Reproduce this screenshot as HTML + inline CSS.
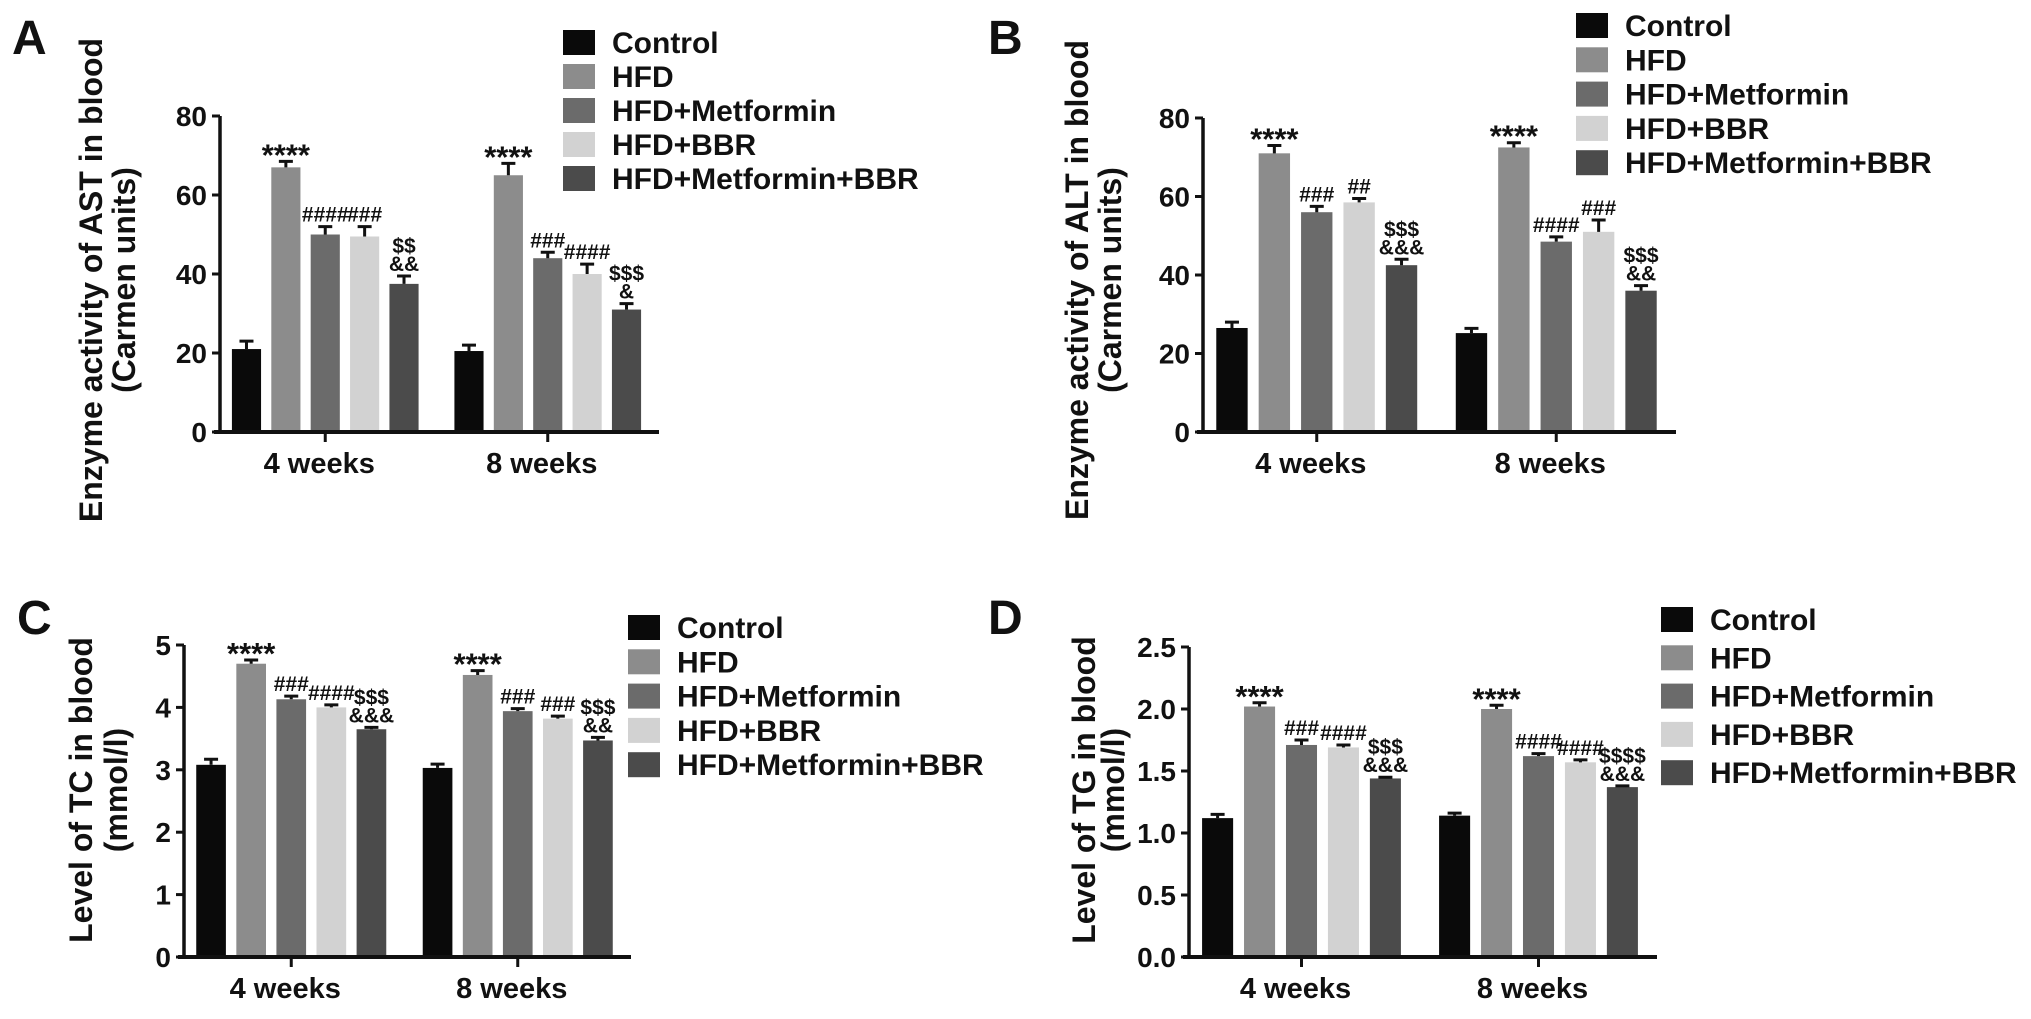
<!DOCTYPE html>
<html><head><meta charset="utf-8"><style>
html,body{margin:0;padding:0;background:#fff;}
svg{display:block;}
text{font-family:"Liberation Sans",sans-serif;font-weight:bold;fill:#111;}
</style></head><body>
<svg id="fig" width="2031" height="1019" viewBox="0 0 2031 1019" xmlns="http://www.w3.org/2000/svg"></svg>
<script>
// ---- shared data ----
const categories = ['4 weeks', '8 weeks'];
const seriesNames = ['Control', 'HFD', 'HFD+Metformin', 'HFD+BBR', 'HFD+Metformin+BBR'];
const seriesColors = ['#0a0a0a', '#8c8c8c', '#6b6b6b', '#d2d2d2', '#4b4b4b'];

// ---- panel A: AST ----
const astMeans4 = [21, 67, 50, 49.5, 37.5];
const astMeans8 = [20.5, 65, 44, 40, 31];
const astErr4 = [2, 1.5, 2, 2.5, 2];
const astErr8 = [1.5, 3, 1.5, 2.5, 1.5];
const astTicks = [0, 20, 40, 60, 80];
const astNotes4 = [[], ['****'], ['####'], ['###'], ['$$', '&&']];
const astNotes8 = [[], ['****'], ['###'], ['####'], ['$$$', '&']];

// ---- panel B: ALT ----
const altMeans4 = [26.5, 71, 56, 58.5, 42.5];
const altMeans8 = [25.2, 72.5, 48.5, 51, 36];
const altErr4 = [1.5, 2, 1.5, 1, 1.5];
const altErr8 = [1.2, 1.2, 1.2, 3, 1.3];
const altTicks = [0, 20, 40, 60, 80];
const altNotes4 = [[], ['****'], ['###'], ['##'], ['$$$', '&&&']];
const altNotes8 = [[], ['****'], ['####'], ['###'], ['$$$', '&&']];

// ---- panel C: TC ----
const tcMeans4 = [3.08, 4.7, 4.13, 4.0, 3.65];
const tcMeans8 = [3.03, 4.52, 3.94, 3.82, 3.47];
const tcErr4 = [0.09, 0.06, 0.05, 0.04, 0.03];
const tcErr8 = [0.06, 0.07, 0.04, 0.04, 0.05];
const tcTicks = [0, 1, 2, 3, 4, 5];
const tcNotes4 = [[], ['****'], ['###'], ['####'], ['$$$', '&&&']];
const tcNotes8 = [[], ['****'], ['###'], ['###'], ['$$$', '&&']];

// ---- panel D: TG ----
const tgMeans4 = [1.12, 2.02, 1.71, 1.69, 1.44];
const tgMeans8 = [1.14, 2.0, 1.62, 1.57, 1.37];
const tgErr4 = [0.03, 0.03, 0.04, 0.02, 0.01];
const tgErr8 = [0.02, 0.03, 0.02, 0.02, 0.01];
const tgTicks = [0, 0.5, 1.0, 1.5, 2.0, 2.5];
const tgNotes4 = [[], ['****'], ['###'], ['####'], ['$$$', '&&&']];
const tgNotes8 = [[], ['****'], ['####'], ['####'], ['$$$$', '&&&']];

const NS = 'http://www.w3.org/2000/svg';
const svg = document.getElementById('fig');
function mk(tag, attrs, parent) {
  const e = document.createElementNS(NS, tag);
  for (const k in attrs) e.setAttribute(k, attrs[k]);
  (parent || svg).appendChild(e);
  return e;
}

function drawPanel(p) {
  const g = mk('g', {});
  
  
  const yMin = p.ticks[0], yMax = p.ticks[p.ticks.length - 1];
  const yScale = v => p.yBottom - (v - yMin) / (yMax - yMin) * (p.yBottom - p.yTop);
  const groupW = (p.x1 - p.x0) / categories.length;
  const xGroup = gi => p.x0 + (gi + 0.5) * groupW;
  const pitch = groupW * 0.177;
  const bw = pitch * 0.74;

  const L = mk('text', {x: p.letterX, y: p.letterY, 'font-size': 48}, g);
  L.textContent = p.letter;
  
  

  const T1 = mk('text', {x: p.titleX1 + 11, y: p.titleY, 'font-size': p.titleSize, 'text-anchor': 'middle', transform: `rotate(-90 ${p.titleX1 + 11} ${p.titleY})`}, g);
  T1.textContent = p.title1;
  
  
  const T2 = mk('text', {x: p.titleX2 + 11, y: p.titleY, 'font-size': p.titleSize, 'text-anchor': 'middle', transform: `rotate(-90 ${p.titleX2 + 11} ${p.titleY})`}, g);
  T2.textContent = p.title2;
  
  

  const means = [p.means4, p.means8], errs = [p.err4, p.err8], notes = [p.notes4, p.notes8];
  for (let gi = 0; gi < categories.length; gi++) {
    for (let si = 0; si < seriesNames.length; si++) {
      const cx = xGroup(gi) + (si - 2) * pitch;
      const v = means[gi][si], e = errs[gi][si];
      const yt = yScale(v);
      const r = mk('rect', {x: cx - bw / 2, y: yt, width: bw, height: p.yBottom - yt, fill: seriesColors[si]}, g);
      
      
      const ye = yScale(v + e);
      const eb = mk('path', {d: `M${cx} ${yt}V${ye}M${cx - 7} ${ye}H${cx + 7}`, stroke: '#111', 'stroke-width': 3, fill: 'none'}, g);
      
      
      const lines = notes[gi][si];
      for (let li = 0; li < lines.length; li++) {
        const ty = ye - 5 - (lines.length - 1 - li) * 18;
        const star = lines[li].indexOf('*') >= 0;
        const t = mk('text', {x: cx, y: star ? ty + 9 : ty, 'font-size': star ? 31 : 21, 'text-anchor': 'middle'}, g);
        t.textContent = lines[li];
        
        
      }
    }
  }

  const ya = mk('path', {d: `M${p.x0 + 6} ${p.yTop}V${p.yBottom}`, stroke: '#111', 'stroke-width': 3.5, fill: 'none'}, g);
  
  
  const xa = mk('path', {d: `M${p.x0} ${p.yBottom}H${p.x1}`, stroke: '#111', 'stroke-width': 4, fill: 'none'}, g);
  
  
  p.ticks.forEach(t => {
    const y = yScale(t);
    mk('path', {d: `M${p.x0 - 2} ${y}H${p.x0 + 6}`, stroke: '#111', 'stroke-width': 3}, g);
    const tl = mk('text', {x: p.x0 - 7, y: y + 10, 'font-size': 28, 'text-anchor': 'end'}, g);
    tl.textContent = p.tickFmt(t);
    
    
  });
  categories.forEach((c, gi) => {
    const x = xGroup(gi);
    mk('path', {d: `M${x} ${p.yBottom}V${p.yBottom + 10}`, stroke: '#111', 'stroke-width': 3}, g);
    const cl = mk('text', {x: x - 6, y: p.yBottom + 41, 'font-size': 29, 'text-anchor': 'middle'}, g);
    cl.textContent = c;
    
    
  });

  const lg = mk('g', {}, g);
  
  
  seriesNames.forEach((n, si) => {
    const y = p.legY + si * p.legPitch;
    const e = mk('g', {}, lg);
    
    
    mk('rect', {x: p.legX, y: y, width: 32, height: 25, fill: seriesColors[si]}, e);
    const t = mk('text', {x: p.legX + 49, y: y + 23, 'font-size': 30}, e);
    t.textContent = n;
  });
}

const int = t => String(t);
const one = t => t.toFixed(1);
drawPanel({key: 'ast', letter: 'A', letterX: 12, letterY: 54, title1: 'Enzyme activity of AST in blood', title2: '(Carmen units)', titleX1: 91, titleX2: 124, titleY: 280, titleSize: 32,
  x0: 214, x1: 659, yTop: 116, yBottom: 432, ticks: astTicks, tickFmt: int,
  means4: astMeans4, means8: astMeans8, err4: astErr4, err8: astErr8, notes4: astNotes4, notes8: astNotes8,
  legX: 563, legY: 30, legPitch: 34});
drawPanel({key: 'alt', letter: 'B', letterX: 988, letterY: 54, title1: 'Enzyme activity of ALT in blood', title2: '(Carmen units)', titleX1: 1077, titleX2: 1110, titleY: 280, titleSize: 32,
  x0: 1197, x1: 1676, yTop: 118, yBottom: 432, ticks: altTicks, tickFmt: int,
  means4: altMeans4, means8: altMeans8, err4: altErr4, err8: altErr8, notes4: altNotes4, notes8: altNotes8,
  legX: 1576, legY: 13, legPitch: 34.3});
drawPanel({key: 'tc', letter: 'C', letterX: 17, letterY: 634, title1: 'Level of TC in blood', title2: '(mmol/l)', titleX1: 81, titleX2: 116, titleY: 790, titleSize: 32,
  x0: 178, x1: 631, yTop: 645, yBottom: 957, ticks: tcTicks, tickFmt: int,
  means4: tcMeans4, means8: tcMeans8, err4: tcErr4, err8: tcErr8, notes4: tcNotes4, notes8: tcNotes8,
  legX: 628, legY: 615, legPitch: 34.3});
drawPanel({key: 'tg', letter: 'D', letterX: 988, letterY: 634, title1: 'Level of TG in blood', title2: '(mmol/l)', titleX1: 1084, titleX2: 1113, titleY: 790, titleSize: 32,
  x0: 1183, x1: 1657, yTop: 647, yBottom: 957, ticks: tgTicks, tickFmt: one,
  means4: tgMeans4, means8: tgMeans8, err4: tgErr4, err8: tgErr8, notes4: tgNotes4, notes8: tgNotes8,
  legX: 1661, legY: 607, legPitch: 38.3});
</script>
</body></html>
